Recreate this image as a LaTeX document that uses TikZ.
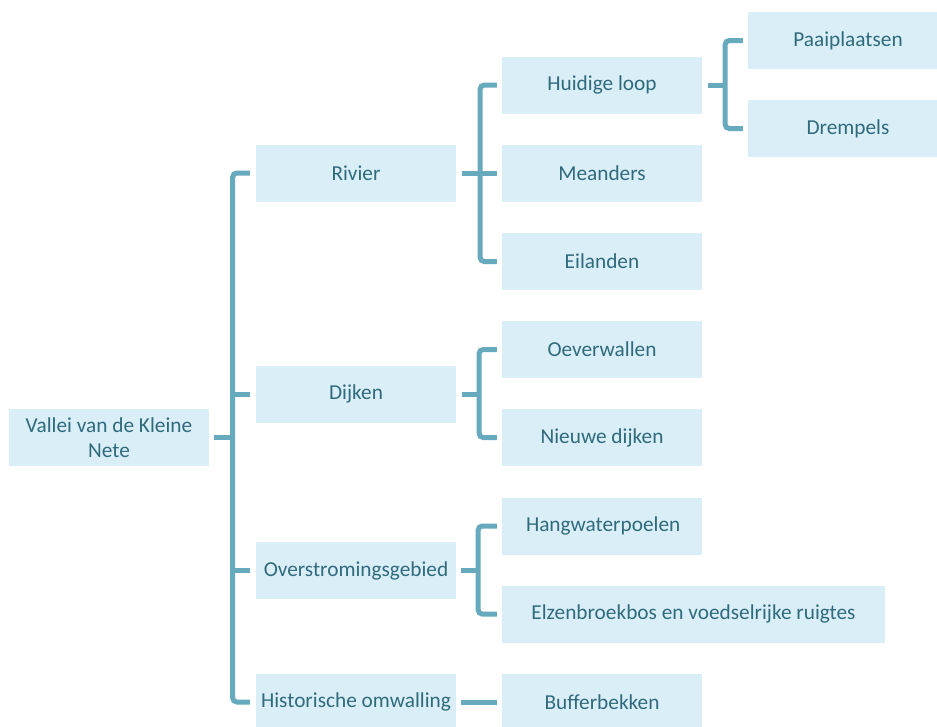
\documentclass[tikz,border=0pt]{standalone}
\usepackage{fontspec}
\setmainfont{Carlito}
\definecolor{boxfill}{HTML}{DAEEF8}
\definecolor{boxtext}{HTML}{2F6B7C}
\definecolor{lineblue}{HTML}{67A9BD}
\begin{document}
\begin{tikzpicture}[x=1pt,y=-1pt,
  box/.style={rectangle, fill=boxfill, text=boxtext, minimum width=200pt, minimum height=57pt, inner sep=2pt, align=center, font=\fontsize{21.3}{25}\selectfont},
  conn/.style={draw=lineblue, line width=5pt, rounded corners=4pt}]
\useasboundingbox (0,0) rectangle (937,726);
% nodes
\node[box] (root) at (109,437.5) {Vallei van de Kleine\\Nete};
\node[box] (rivier) at (356,173) {Rivier};
\node[box] (dijken) at (356,394) {Dijken};
\node[box] (over) at (356,570.5) {Overstromingsgebied};
\node[box] (hist) at (356,702) {Historische omwalling};
\node[box] (huidig) at (602,85) {Huidige loop};
\node[box] (meand) at (602,173) {Meanders};
\node[box] (eil) at (602,261.5) {Eilanden};
\node[box] (oever) at (602,349.5) {Oeverwallen};
\node[box] (nieuw) at (602,437.5) {Nieuwe dijken};
\node[box, text width=196pt, align=left] (hang) at (602,526) {\hspace*{22pt}Hangwaterpoelen};
\node[box, minimum width=383pt] (elzen) at (693.5,614) {Elzenbroekbos en voedselrijke ruigtes};
\node[box] (buffer) at (602,702) {Bufferbekken};
\node[box] (paai) at (848,40.5) {Paaiplaatsen};
\node[box] (drem) at (848,128.5) {Drempels};
% root connectors
\draw[conn] ([xshift=5pt]root.east) -- ++(21,0);
\draw[conn] ([xshift=-6pt]rivier.west) -| ([xshift=23.5pt]root.east) |- ([xshift=-6pt]hist.west);
\draw[conn] ([xshift=-6pt]dijken.west) -- ++(-19,0);
\draw[conn] ([xshift=-6pt]over.west) -- ++(-19,0);
% rivier
\draw[conn] ([xshift=6pt]rivier.east) -- ++(20,0);
\draw[conn] ([xshift=-5pt]huidig.west) -| ([xshift=24pt]rivier.east) |- ([xshift=-5pt]eil.west);
\draw[conn] ([xshift=-5pt]meand.west) -- ++(-19,0);
% dijken
\draw[conn] ([xshift=6pt]dijken.east) -- ++(18,0);
\draw[conn] ([xshift=-5pt]oever.west) -| ([xshift=23pt]dijken.east) |- ([xshift=-5pt]nieuw.west);
% overstromingsgebied
\draw[conn] ([xshift=5pt]over.east) -- ++(19,0);
\draw[conn] ([xshift=-5pt]hang.west) -| ([xshift=22pt]over.east) |- ([xshift=-5pt]elzen.west);
% historische
\draw[conn] ([xshift=5pt]hist.east) -- ([xshift=-5pt]buffer.west);
% huidige loop
\draw[conn] ([xshift=6pt]huidig.east) -- ++(19,0);
\draw[conn] ([xshift=-5pt]paai.west) -| ([xshift=23pt]huidig.east) |- ([xshift=-5pt]drem.west);
\end{tikzpicture}
\end{document}
